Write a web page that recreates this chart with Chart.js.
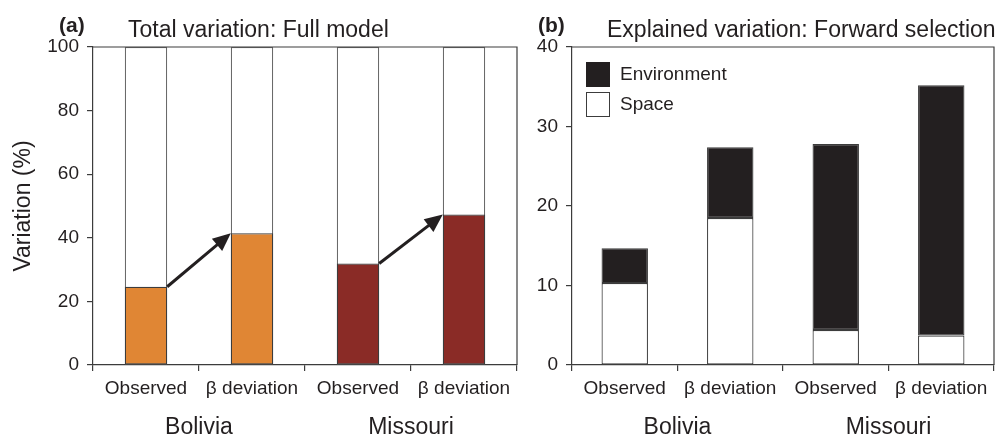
<!DOCTYPE html>
<html>
<head>
<meta charset="utf-8">
<script src="https://cdn.jsdelivr.net/npm/chart.js@4.4.1/dist/chart.umd.min.js"></script>
<style>
    html, body { margin: 0; padding: 0; background: #fff; }
    #wrap { position: relative; width: 995px; height: 437px; overflow: hidden; }
    #chartA { position: absolute; left: 0; top: 0; }
    #chartB { position: absolute; left: 530px; top: 0; }
</style>
</head>
<body>
<div id="wrap">
    <canvas id="chartA" width="530" height="437"></canvas>
    <canvas id="chartB" width="465" height="437"></canvas>
</div>
<script>
// data
const categories = ['Observed', 'β deviation', 'Observed', 'β deviation'];
const groups = ['Bolivia', 'Missouri'];
const totalVariation = [24.6, 41.4, 31.9, 47.3];
const fullModel = [100, 100, 100, 100];
const spaceValues = [10.3, 18.5, 4.4, 3.7];
const environmentValues = [4.4, 8.9, 23.4, 31.5];
const ticksA = [0, 20, 40, 60, 80, 100];
const ticksB = [0, 10, 20, 30, 40];

const FONT = '"Liberation Sans", Arial, Helvetica, sans-serif';
const INK = '#231F20';
const EDGE = '#3c3c3c';
const barColors = ['#E08634', '#E08634', '#8A2B26', '#8A2B26'];

Chart.defaults.font.family = FONT;
Chart.defaults.color = INK;

// titles, frame and group labels
function panelDecor(letter, title, titleX) {
    return {
        id: 'panelDecor',
        afterDraw(chart) {
            const ctx = chart.ctx;
            const area = chart.chartArea;
            const xs = chart.scales.x;
            ctx.save();
            // frame top + right
            ctx.strokeStyle = EDGE;
            ctx.lineWidth = 1.2;
            ctx.beginPath();
            ctx.moveTo(area.left, area.top);
            ctx.lineTo(area.right, area.top);
            ctx.lineTo(area.right, area.bottom);
            ctx.stroke();

            ctx.fillStyle = INK;
            ctx.textBaseline = 'alphabetic';
            ctx.textAlign = 'left';
            ctx.font = 'bold 21px ' + FONT;
            ctx.fillText(letter, area.left - 34, 32);
            ctx.font = '23px ' + FONT;
            ctx.fillText(title, titleX, 37);

            // country labels under each pair
            ctx.textAlign = 'center';
            groups.forEach((g, i) => {
                const x = (xs.getPixelForValue(i * 2) + xs.getPixelForValue(i * 2 + 1)) / 2;
                ctx.fillText(g, x, 434);
            });
            ctx.restore();
        }
    };
}

// arrows from observed to beta deviation
const arrowPlugin = {
    id: 'arrows',
    afterDatasetsDraw(chart) {
        const bars = chart.getDatasetMeta(0).data;
        const ctx = chart.ctx;
        ctx.save();
        ctx.strokeStyle = INK;
        ctx.fillStyle = INK;
        ctx.lineWidth = 3;
        [[0, 1], [2, 3]].forEach(([a, b]) => {
            const x1 = bars[a].x + bars[a].width / 2;
            const y1 = bars[a].y;
            const x2 = bars[b].x - bars[b].width / 2;
            const y2 = bars[b].y;
            const ang = Math.atan2(y2 - y1, x2 - x1);
            const head = 18, half = 8;
            const bx = x2 - head * Math.cos(ang);
            const by = y2 - head * Math.sin(ang);
            ctx.beginPath();
            ctx.moveTo(x1, y1);
            ctx.lineTo(bx + 2 * Math.cos(ang), by + 2 * Math.sin(ang));
            ctx.stroke();
            ctx.beginPath();
            ctx.moveTo(x2, y2);
            ctx.lineTo(bx + half * Math.sin(ang), by - half * Math.cos(ang));
            ctx.lineTo(bx - half * Math.sin(ang), by + half * Math.cos(ang));
            ctx.closePath();
            ctx.fill();
        });
        ctx.restore();
    }
};

// legend in panel b
const legendB = {
    id: 'legendB',
    afterDraw(chart) {
        const ctx = chart.ctx;
        const left = chart.chartArea.left + 14;
        ctx.save();
        ctx.lineWidth = 1;
        ctx.fillStyle = INK;
        ctx.fillRect(left, 62, 24, 25);
        ctx.fillStyle = '#fff';
        ctx.strokeStyle = EDGE;
        ctx.fillRect(left, 92, 24, 25);
        ctx.strokeRect(left + 0.5, 92.5, 23, 24);
        ctx.fillStyle = INK;
        ctx.font = '19px ' + FONT;
        ctx.textBaseline = 'middle';
        ctx.fillText('Environment', left + 34, 75);
        ctx.fillText('Space', left + 34, 105);
        ctx.restore();
    }
};

// shared axis setup
function xAxis(stacked) {
    return {
        stacked: stacked,
        offset: true,
        grid: { offset: true, drawOnChartArea: false, drawTicks: true, tickLength: 6, color: EDGE, lineWidth: 1.2 },
        border: { color: EDGE, width: 1.2 },
        ticks: { font: { size: 19 }, color: INK, padding: 6, maxRotation: 0, autoSkip: false },
        afterFit(scale) { scale.height = 72; }
    };
}

function yAxis(tickList, max, width, stacked, title) {
    const axis = {
        stacked: stacked,
        min: 0,
        max: max,
        grid: { drawOnChartArea: false, drawTicks: true, tickLength: 6, color: EDGE, lineWidth: 1.2 },
        border: { color: EDGE, width: 1.2 },
        ticks: { font: { size: 19 }, color: INK, padding: 8 },
        afterBuildTicks(scale) { scale.ticks = tickList.map(v => ({ value: v })); },
        afterFit(scale) { scale.width = width; }
    };
    if (title) {
        axis.title = { display: true, text: title, font: { size: 23 }, color: INK, padding: { top: 10, bottom: 0 } };
    }
    return axis;
}

// panel a
function initChartA() {
    new Chart(document.getElementById('chartA'), {
        type: 'bar',
        data: {
            labels: categories,
            datasets: [{
                label: 'Total variation',
                data: totalVariation,
                backgroundColor: barColors,
                borderColor: EDGE,
                borderWidth: 1.2,
                borderSkipped: false,
                grouped: false,
                categoryPercentage: 1,
                barPercentage: 0.4
            }, {
                label: 'Full model',
                data: fullModel,
                backgroundColor: '#ffffff',
                borderColor: '#6a6a6a',
                borderWidth: 1.2,
                borderSkipped: false,
                grouped: false,
                categoryPercentage: 1,
                barPercentage: 0.4
            }]
        },
        options: {
            responsive: false,
            animation: false,
            layout: { padding: { top: 47, right: 13, left: 0, bottom: 0 } },
            plugins: { legend: { display: false }, tooltip: { enabled: false } },
            scales: {
                x: xAxis(false),
                y: yAxis(ticksA, 100, 93, false, 'Variation (%)')
            }
        },
        plugins: [arrowPlugin, panelDecor('(a)', 'Total variation: Full model', 128)]
    });
}

// panel b
function initChartB() {
    new Chart(document.getElementById('chartB'), {
        type: 'bar',
        data: {
            labels: categories,
            datasets: [{
                label: 'Space',
                data: spaceValues,
                backgroundColor: '#ffffff',
                borderColor: EDGE,
                borderWidth: 1.2,
                borderSkipped: false,
                categoryPercentage: 1,
                barPercentage: 0.44
            }, {
                label: 'Environment',
                data: environmentValues,
                backgroundColor: INK,
                borderColor: EDGE,
                borderWidth: 1.2,
                borderSkipped: false,
                categoryPercentage: 1,
                barPercentage: 0.44
            }]
        },
        options: {
            responsive: false,
            animation: false,
            layout: { padding: { top: 47, right: 1, left: 0, bottom: 0 } },
            plugins: { legend: { display: false }, tooltip: { enabled: false } },
            scales: {
                x: xAxis(true),
                y: yAxis(ticksB, 40, 42, true, null)
            }
        },
        plugins: [legendB, panelDecor('(b)', 'Explained variation: Forward selection', 77)]
    });
}

document.addEventListener('DOMContentLoaded', () => {
    initChartA();
    initChartB();
});
</script>
</body>
</html>
